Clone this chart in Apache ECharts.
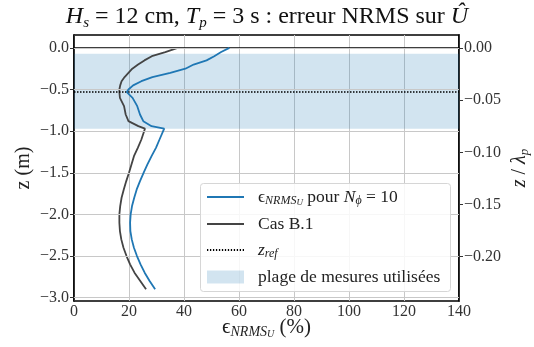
<!DOCTYPE html>
<html><head><meta charset="utf-8">
<script src="https://cdn.jsdelivr.net/npm/echarts@6/dist/echarts.min.js"></script>
<style>html,body{margin:0;padding:0;background:#fff}#c{width:534px;height:347px}</style>
</head><body><div id="c"></div>
<script>
// depths (m)
const zDepths = [0, -0.05, -0.1, -0.15, -0.2, -0.25, -0.3, -0.35, -0.4, -0.45, -0.5, -0.53, -0.6, -0.7, -0.8, -0.88, -0.94, -0.97, -1.1, -1.2, -1.3, -1.4, -1.5, -1.6, -1.7, -1.8, -1.9, -2.0, -2.1, -2.2, -2.3, -2.4, -2.5, -2.6, -2.7, -2.8, -2.9];
// NRMS error (%) for N_phi = 10
const errNphi10 = [56.5, 53.5, 51.0, 48.2, 43.5, 40.5, 35.0, 28.5, 24.5, 21.5, 19.8, 19.2, 21.3, 23.0, 24.0, 25.2, 28.2, 32.8, 31.1, 29.8, 28.2, 26.7, 25.3, 24.0, 22.8, 21.9, 21.1, 20.6, 20.4, 20.5, 21.0, 21.8, 22.9, 24.2, 25.7, 27.5, 29.5];
// Cas B.1
const errCasB1 = [37.7, 33.2, 28.3, 25.6, 23.3, 21.2, 19.8, 18.4, 17.3, 16.8, 16.5, 16.5, 16.7, 18.2, 18.8, 19.8, 23.4, 25.8, 24.5, 23.2, 21.8, 20.9, 20.0, 19.0, 18.1, 17.3, 16.8, 16.5, 16.5, 16.7, 17.2, 18.0, 19.1, 20.4, 22.0, 24.1, 26.2];
const zRef = -0.53;
const measureRange = [-0.07, -0.97];
const leftTicks = [0, -0.5, -1.0, -1.5, -2.0, -2.5, -3.0];
const rightTicks = [0, -0.05, -0.10, -0.15, -0.20];
const xTicks = [0, 20, 40, 60, 80, 100, 120, 140];
const lambdaP = 12.54;
const zMin = -3.04, zMax = 0.155;

const F = 'Liberation Serif';
const fmt = (v, d) => (Math.abs(v) < 1e-9 ? (0).toFixed(d) : (v < 0 ? '\u2212' : '') + Math.abs(v).toFixed(d));

const names = ['eps', 'Cas B.1', 'zref', 'plage de mesures utilisées'];
const chart = echarts.init(document.getElementById('c'), null, {renderer: 'canvas'});
const pair = (xs) => xs.map((x, i) => [x, zDepths[i]]);
const LFS = 17.5;
const legendText = {
  fontFamily: F, fontSize: LFS, color: '#222',
  rich: {
    g: {width: 9},
    e: {fontFamily: F, fontSize: LFS, color: '#222'},
    i: {fontFamily: F, fontSize: LFS, fontStyle: 'italic', color: '#222'},
    s: {fontFamily: F, fontSize: 12, fontStyle: 'italic', color: '#222', verticalAlign: 'bottom', padding: [8, 0, 0, 0]},
    ss: {fontFamily: F, fontSize: 9, fontStyle: 'italic', color: '#222', verticalAlign: 'bottom', padding: [11, 0, 0, 0]}
  }
};
const legendFmt = n => '{g|}' + (n === 'eps' ? '{e|ϵ}{s|NRMS}{ss|U} pour {i|N}{s|ϕ} = 10' : (n === 'zref' ? '{i|z}{s|ref}' : n));
let dots = '';
for (let k = 0; k < 13; k++) dots += 'M' + (k * 3) + ',0h1.3v2h-1.3z';

chart.setOption({
  animation: false,
  backgroundColor: '#fff',
  title: {
    text: '{i|H}{s|s} = 12 cm, {i|T}{s|p} = 3 s : erreur NRMS sur {i|Û}',
    left: 'center', top: -2,
    textStyle: {
      fontFamily: F, fontSize: 24, fontWeight: 'normal', color: '#111',
      rich: {
        i: {fontFamily: F, fontSize: 24, fontStyle: 'italic', color: '#111'},
        s: {fontFamily: F, fontSize: 15, fontStyle: 'italic', color: '#111', verticalAlign: 'bottom', padding: [13, 0, 0, 0]}
      }
    }
  },
  grid: {left: 74, right: 75, top: 35, bottom: 46, show: true, borderColor: '#000', borderWidth: 1.5, containLabel: false, outerBoundsMode: 'none'},
  graphic: [{
    type: 'rect', z: 10, silent: true,
    shape: {x: 200.5, y: 183.5, width: 250, height: 108, r: 3},
    style: {fill: 'rgba(255,255,255,0.85)', stroke: '#d6d6d6', lineWidth: 1}
  }],
  legend: [{
    orient: 'vertical', left: 207, top: 188, z: 20,
    data: [
      {name: names[0], icon: 'rect'},
      {name: names[1], icon: 'rect'},
      {name: names[2], icon: 'path://' + dots}
    ],
    itemWidth: 37, itemHeight: 2, itemGap: 8, padding: 0,
    formatter: legendFmt, textStyle: legendText
  }, {
    orient: 'vertical', left: 207, top: 268, z: 20,
    data: [{name: names[3], icon: 'rect'}],
    itemWidth: 37, itemHeight: 13, padding: 0,
    formatter: legendFmt, textStyle: legendText
  }],
  xAxis: {
    type: 'value', min: 0, max: 140, interval: 20,
    name: '{e|ϵ}{s|NRMS}{ss|U} (%)', nameLocation: 'middle', nameGap: 15, nameMoveOverlap: false,
    nameTextStyle: {
      fontFamily: F, fontSize: 21, color: '#222',
      rich: {
        e: {fontFamily: F, fontSize: 21, color: '#222'},
        s: {fontFamily: F, fontSize: 14, fontStyle: 'italic', color: '#222', verticalAlign: 'bottom', padding: [9, 0, 0, 0]},
        ss: {fontFamily: F, fontSize: 10, fontStyle: 'italic', color: '#222', verticalAlign: 'bottom', padding: [13, 0, 0, 0]}
      }
    },
    axisLine: {show: true, lineStyle: {color: '#000', width: 1.5}},
    axisTick: {show: false},
    axisLabel: {fontFamily: F, fontSize: 16, color: '#333', margin: 3},
    splitLine: {show: true, lineStyle: {color: '#c8c8c8', width: 1}}
  },
  yAxis: [{
    type: 'value', min: zMin, max: zMax, position: 'left',
    name: 'z (m)', nameLocation: 'middle', nameGap: 40, nameRotate: 90, nameMoveOverlap: false,
    nameTextStyle: {fontFamily: F, fontSize: 20, color: '#222'},
    axisLine: {show: true, lineStyle: {color: '#000', width: 1.5}},
    axisTick: {show: true, length: 4, customValues: leftTicks, lineStyle: {color: '#333'}},
    axisLabel: {fontFamily: F, fontSize: 16, color: '#333', margin: 5, customValues: leftTicks, formatter: v => fmt(v, 1)},
    splitLine: {show: false}
  }, {
    type: 'value', min: zMin / lambdaP, max: zMax / lambdaP, position: 'right',
    name: '{i|z} / {i|λ}{s|p}', nameLocation: 'middle', nameGap: 50, nameRotate: 90, nameMoveOverlap: false,
    nameTextStyle: {fontFamily: F, fontSize: 20, color: '#222',
      rich: {
        i: {fontFamily: F, fontSize: 20, fontStyle: 'italic', color: '#222'},
        s: {fontFamily: F, fontSize: 13, fontStyle: 'italic', color: '#222', verticalAlign: 'bottom', padding: [9, 0, 0, 0]}
      }},
    axisLine: {show: true, lineStyle: {color: '#000', width: 1.5}},
    axisTick: {show: true, length: 4, customValues: rightTicks, lineStyle: {color: '#333'}},
    axisLabel: {fontFamily: F, fontSize: 16, color: '#333', margin: 5, customValues: rightTicks, formatter: v => fmt(v, 2)},
    splitLine: {show: false}
  }],
  series: [
    {
      name: names[3], type: 'line', data: [], yAxisIndex: 0, symbol: 'none',
      itemStyle: {color: 'rgba(31,119,180,0.2)'},
      markArea: {silent: true, itemStyle: {color: 'rgba(31,119,180,0.2)'},
        data: [[{yAxis: measureRange[0]}, {yAxis: measureRange[1]}]]},
      markLine: {silent: true, symbol: 'none', label: {show: false},
        lineStyle: {color: '#c8c8c8', width: 1, type: 'solid'},
        data: leftTicks.map(v => ({yAxis: v}))},
      z: 1
    },
    {
      name: names[2], type: 'line', data: [], symbol: 'none',
      itemStyle: {color: '#000'}, lineStyle: {color: '#000', width: 1.5, type: 'dotted'},
      markLine: {silent: true, symbol: 'none', label: {show: false},
        lineStyle: {color: '#000', width: 1.5, type: 'dotted'},
        data: [{yAxis: zRef}]},
      z: 3
    },
    {
      name: names[1], type: 'line', data: pair(errCasB1), symbol: 'none', showSymbol: false,
      itemStyle: {color: '#444'}, lineStyle: {color: '#444', width: 1.8}, z: 4
    },
    {
      name: names[0], type: 'line', data: pair(errNphi10), symbol: 'none', showSymbol: false,
      itemStyle: {color: '#1f77b4'}, lineStyle: {color: '#1f77b4', width: 1.8}, z: 5
    }
  ]
});
</script></body></html>
